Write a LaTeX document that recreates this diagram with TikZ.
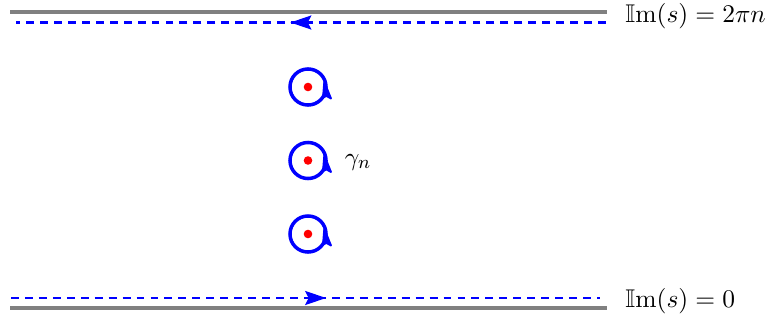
\documentclass[tikz,border=0pt]{standalone}
\usepackage{amssymb}
\usetikzlibrary{arrows.meta,decorations.markings}
\begin{document}
\begin{tikzpicture}[x=0.43pt,y=0.43pt,
  every node/.style={font=\fontsize{11}{13}\selectfont},
  axisline/.style={draw=gray,line width=1.8pt},
  pathline/.style={draw=blue,line width=1.15pt,dash pattern=on 3.4pt off 2.6pt},
  midarrow/.style={postaction={decorate},decoration={markings,
     mark=at position #1 with {\arrow{Stealth[length=9pt,width=6pt,inset=1.5pt]}}}},
  loopc/.style={circle,draw=blue,line width=1.5pt,minimum size=15.5pt,inner sep=0pt},
  pole/.style={fill=red},
  looptip/.style={fill=blue,draw=blue,line width=0.8pt,line join=round},
  lbl/.style={inner sep=0pt,anchor=west}
]
\useasboundingbox (0,0) rectangle (774,323);
% coordinates
\coordinate (tl) at (10,311);
\coordinate (tr) at (607,311);
\coordinate (bl) at (10,15);
\coordinate (br) at (607,15);
\coordinate (dts) at (606,300.5);
\coordinate (dte) at (16,300.5);
\coordinate (dbs) at (11,25);
\coordinate (dbe) at (600,25);
% lines
\path[axisline] (tl) -- (tr);
\path[axisline] (bl) -- (br);
\path[pathline,midarrow=0.535] (dts) -- (dte);
\path[pathline,midarrow=0.535] (dbs) -- (dbe);
% labels
\node[lbl] (ltop) at (625,306.5) {$\mathbb{I}\mathrm{m}(s)=2\pi n$};
\node[lbl] (lbot) at (625,22) {$\mathbb{I}\mathrm{m}(s)=0$};
% loops
\foreach \i/\yy in {1/236,2/162.5,3/89}{
  \node[loopc] (c\i) at (308,\yy) {};
  \fill[pole] (c\i.center) circle[radius=4.3];
  \filldraw[looptip] ([shift={(16.3,5)}]c\i.center) -- ([shift={(15,-10.5)}]c\i.center)
     -- ([shift={(18.5,-9)}]c\i.center) -- ([shift={(23,-11.5)}]c\i.center) -- cycle;
}
\node[inner sep=0pt] (gam) at (358,161) {$\gamma_n$};
\end{tikzpicture}
\end{document}
